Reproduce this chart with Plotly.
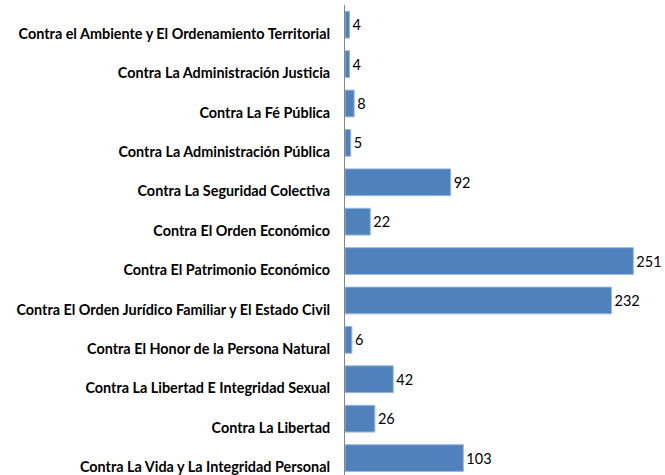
import plotly.graph_objects as go

categories = [
    "Contra el Ambiente y El Ordenamiento Territorial",
    "Contra La Administración Justicia",
    "Contra La Fé Pública",
    "Contra La Administración Pública",
    "Contra La Seguridad Colectiva",
    "Contra El Orden Económico",
    "Contra El Patrimonio Económico",
    "Contra El Orden Jurídico Familiar y El Estado Civil",
    "Contra El Honor de la Persona Natural",
    "Contra La Libertad E Integridad Sexual",
    "Contra La Libertad",
    "Contra La Vida y La Integridad Personal",
]
values = [4, 4, 8, 5, 92, 22, 251, 232, 6, 42, 26, 103]

fig = go.Figure(
    go.Bar(
        x=values,
        y=categories,
        orientation="h",
        marker=dict(color="#4F81BD", line=dict(color="#9DB9DC", width=1)),
        text=[str(v) for v in values],
        textposition="outside",
        cliponaxis=False,
        textfont=dict(family="Lato", size=14.5, color="#000000"),
    )
)

fig.update_layout(
    width=665,
    height=475,
    margin=dict(l=345, r=5, t=5, b=0),
    paper_bgcolor="white",
    plot_bgcolor="white",
    bargap=0.32,
    showlegend=False,
    xaxis=dict(
        range=[0, 274.2],
        visible=False,
        showgrid=False,
        zeroline=False,
    ),
    yaxis=dict(
        categoryorder="array",
        categoryarray=categories,
        range=[11.43, -0.5],
        showline=True,
        linecolor="#868686",
        linewidth=1,
        showgrid=False,
        zeroline=False,
        ticks="",
        ticklabelstandoff=11,
        ticklabelshift=-9,
        tickfont=dict(family="Lato", size=14.4, color="#000000", weight="bold"),
    ),
)

fig.write_html(
    "out.html",
    config={"displayModeBar": False},
    post_script="document.body.style.margin='0';document.body.style.overflow='hidden';",
)
